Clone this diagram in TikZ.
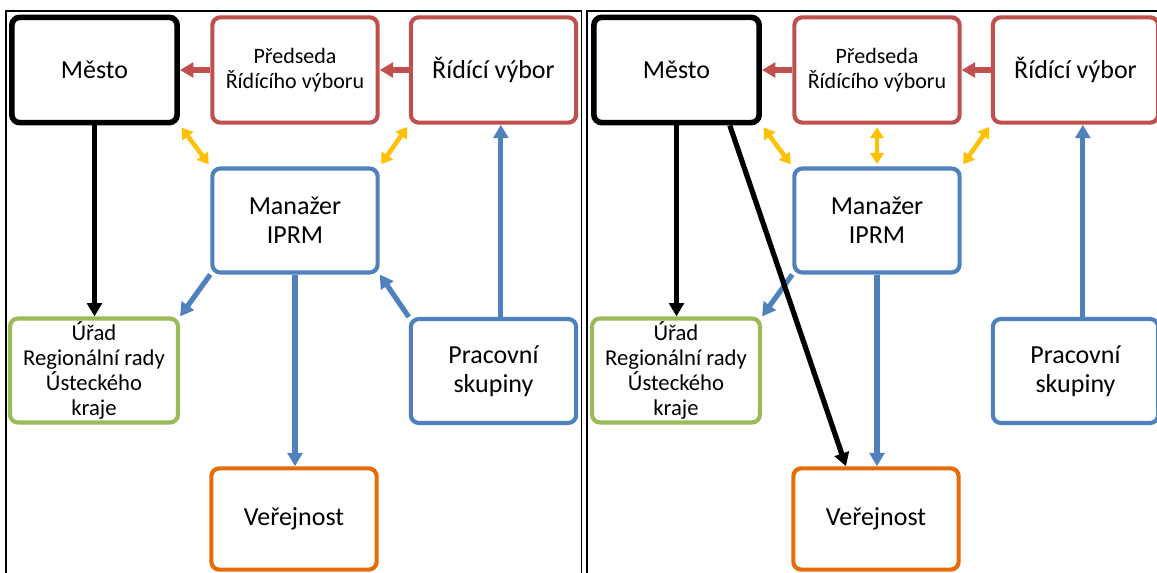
\documentclass[tikz,border=0pt]{standalone}
\usepackage{fontspec}
\setmainfont{Carlito}
\usetikzlibrary{arrows.meta}
\definecolor{cervena}{HTML}{C0504D}
\definecolor{modra}{HTML}{4F81BD}
\definecolor{zelena}{HTML}{9BBB59}
\definecolor{oranzova}{HTML}{E46C0A}
\definecolor{zluta}{HTML}{FFC000}
\begin{document}
\begin{tikzpicture}[x=0.75pt,y=-0.75pt]
\tikzstyle{blok}=[draw, rounded corners=6pt, line width=3.1pt, fill=white, align=center, minimum width=124pt, minimum height=79pt, inner sep=2pt, font=\fontsize{19.5}{22}\selectfont]
\tikzstyle{maly}=[font=\fontsize{16.5}{18.5}\selectfont]
\tikzstyle{sipka}=[line width=3.9pt, -{Triangle[length=10pt,width=11pt]}]
\tikzstyle{obousm}=[line width=3.4pt, zluta, {Triangle[length=8pt,width=10pt]}-{Triangle[length=8pt,width=10pt]}, shorten <=2pt, shorten >=2pt]
\useasboundingbox (0,0) rectangle (1157,573);
% ramecky obou variant
\draw[line width=1.2pt] (6,600)--(6,11)--(581.5,11)--(581.5,600);
\draw[line width=1.2pt] (587,600)--(587,11)--(1170,11);
\foreach \p/\dx in {a/0, b/582}{
\node[blok, line width=4.2pt] (\p-mesto) at (94.5+\dx,70){Město};
\node[blok, draw=cervena, maly] (\p-predseda) at (295+\dx,70){Předseda\\Řídícího výboru};
\node[blok, draw=cervena] (\p-ridici) at (493.5+\dx,70){Řídící výbor};
\node[blok, draw=modra, minimum height=78pt] (\p-manazer) at (295+\dx,220.5){Manažer\\IPRM};
\node[blok, draw=zelena, font=\fontsize{17}{18.8}\selectfont, minimum width=126pt, minimum height=78pt] (\p-urad) at (94+\dx,370.5){Úřad\\Regionální rady\\Ústeckého\\kraje};
\node[blok, draw=modra, minimum height=78pt] (\p-pracovni) at (493.5+\dx,371){Pracovní\\skupiny};
\node[blok, draw=oranzova, minimum height=76pt] (\p-verejnost) at (294+\dx,519){Veřejnost};
\draw[sipka, cervena] (\p-ridici) -- (\p-predseda);
\draw[sipka, cervena] (\p-predseda) -- (\p-mesto);
\draw[obousm] (\p-mesto.south east) -- (\p-manazer.north west);
\draw[obousm] (\p-ridici.south west) -- (\p-manazer.north east);
\draw[sipka] (\p-mesto.south) -- (\p-mesto.south |- \p-urad.north);
\draw[sipka, modra] (\p-manazer.south west) -- (\p-urad.north east);
\draw[sipka, modra] (\p-manazer.south) -- (\p-manazer.south |- \p-verejnost.north);
\draw[sipka, modra] ([xshift=5.5pt]\p-pracovni.north) -- ([xshift=5.5pt]\p-ridici.south);
}
% jen v prvni variante
\draw[sipka, modra] (a-pracovni.north west) -- (a-manazer.south east);
% jen ve druhe variante
\draw[obousm] (b-predseda) -- (b-manazer);
\draw[sipka] ([xshift=40pt]b-mesto.south) -- ([xshift=-22.5pt]b-verejnost.north);
\end{tikzpicture}
\end{document}
